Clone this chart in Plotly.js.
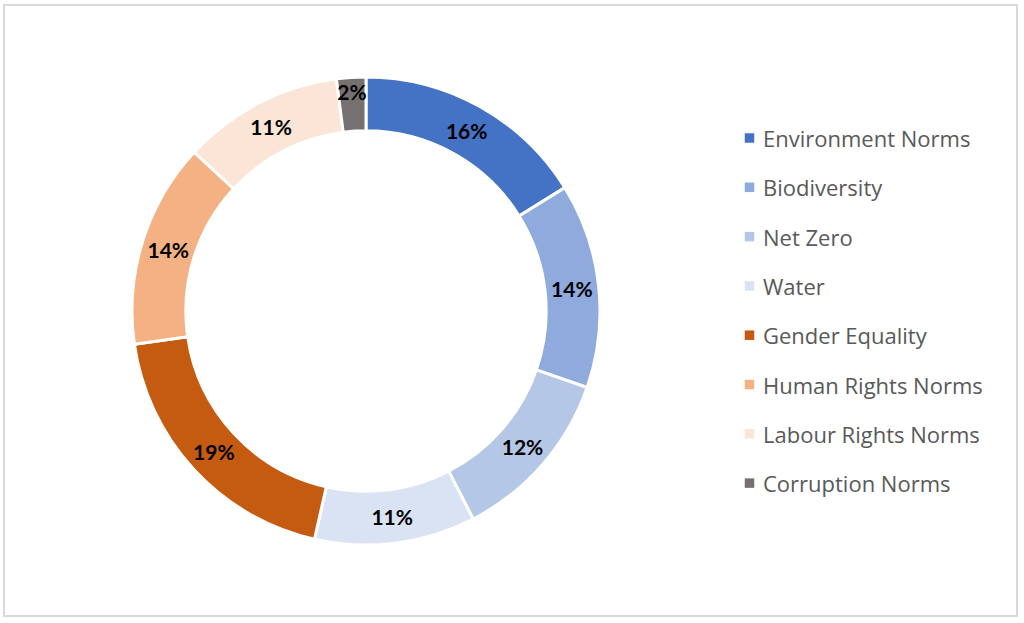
<!DOCTYPE html>
<html>
<head>
<meta charset="utf-8">
<script src="https://cdn.plot.ly/plotly-3.0.1.min.js"></script>
<style>html,body{margin:0;padding:0;background:#fff}#chart{width:1024px;height:623px}</style>
</head>
<body>
<div id="chart"></div>
<script>
const categories = ["Environment Norms","Biodiversity","Net Zero","Water","Gender Equality","Human Rights Norms","Labour Rights Norms","Corruption Norms"];
const shares = [16,14,12,11,19,14,11,2];
const sliceColors = ["#4472C4","#8FAADC","#B4C7E7","#DAE3F3","#C55A11","#F4B183","#FBE5D6","#767171"];

const W = 1024, H = 623;
const cx = 366, cy = 311, R = 234;

const trace = {
  type: "pie",
  labels: categories,
  values: shares,
  sort: false,
  direction: "clockwise",
  rotation: 0,
  hole: 0.77,
  marker: {colors: sliceColors, line: {color: "#ffffff", width: 3}},
  texttemplate: "%{value}%",
  textposition: "inside",
  insidetextorientation: "horizontal",
  textfont: {family: "Lato, 'Open Sans', sans-serif", size: 21, color: "#000000", weight: "bold"},
  showlegend: false,
  domain: {x: [(cx - R) / W, (cx + R) / W], y: [(H - cy - R) / H, (H - cy + R) / H]}
};

const shapes = [{
  type: "rect", xref: "paper", yref: "paper",
  x0: 4 / W, x1: 1017 / W, y0: 1 - 616 / H, y1: 1 - 5 / H,
  line: {color: "#d9d9d9", width: 2}, fillcolor: "rgba(0,0,0,0)"
}];
const annotations = [];
const legTop = 138, legStep = 49.3;
categories.forEach((c, i) => {
  const y = 1 - (legTop + i * legStep) / H;
  shapes.push({
    type: "rect", xref: "paper", yref: "paper",
    xsizemode: "pixel", ysizemode: "pixel",
    xanchor: 749.5 / W, yanchor: y,
    x0: -4.75, x1: 4.75, y0: -4.75, y1: 4.75,
    fillcolor: sliceColors[i], line: {width: 0}
  });
  annotations.push({
    xref: "paper", yref: "paper", x: 761 / W, y: y,
    xanchor: "left", yanchor: "middle", showarrow: false,
    text: c,
    font: {family: "'Open Sans', sans-serif", size: 22, color: "#595959"}
  });
});

const layout = {
  width: W, height: H,
  margin: {l: 0, r: 0, t: 0, b: 0},
  paper_bgcolor: "#ffffff",
  uniformtext: {minsize: 21, mode: "show"},
  shapes: shapes,
  annotations: annotations,
  showlegend: false
};

Plotly.newPlot("chart", [trace], layout, {displayModeBar: false, staticPlot: true});
</script>
</body>
</html>
